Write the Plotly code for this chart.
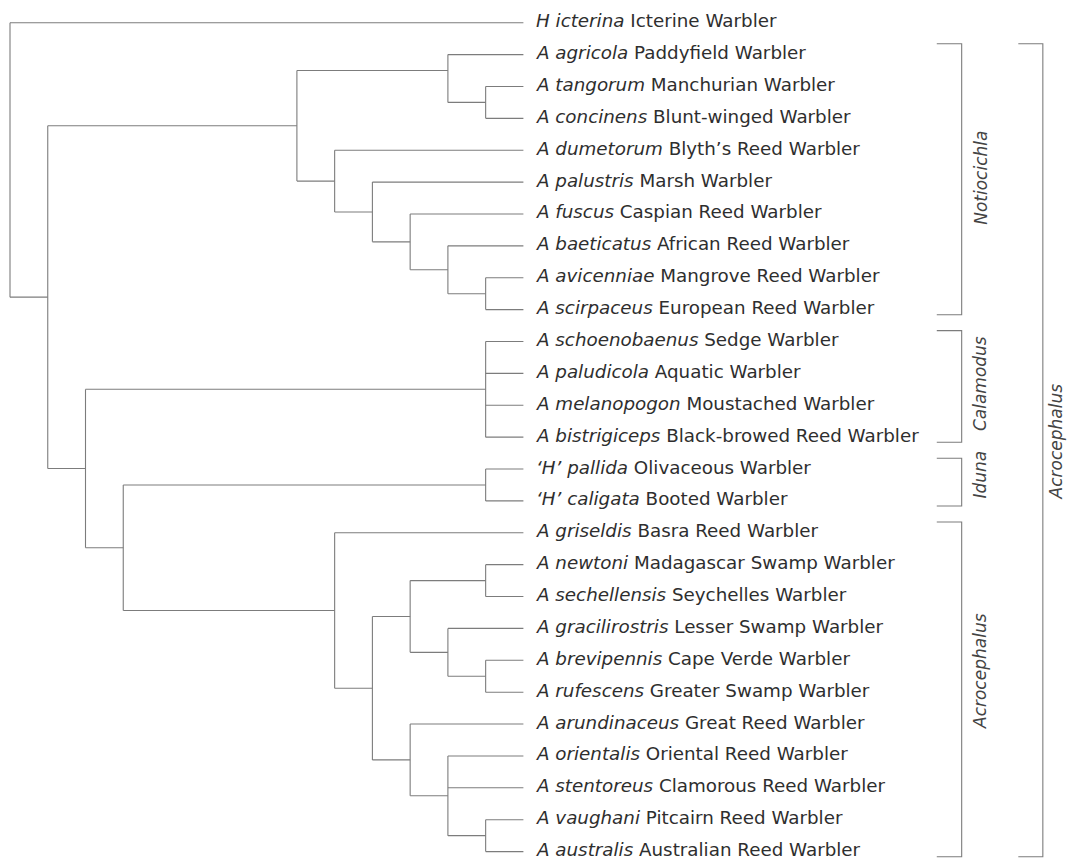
import plotly.graph_objects as go

# ---- data -------------------------------------------------------------
genus = ["H", "A", "A", "A", "A", "A", "A", "A", "A", "A",
         "A", "A", "A", "A", "‘H’", "‘H’",
         "A", "A", "A", "A", "A", "A", "A", "A", "A", "A", "A"]
species = ["icterina", "agricola", "tangorum", "concinens", "dumetorum", "palustris",
           "fuscus", "baeticatus", "avicenniae", "scirpaceus",
           "schoenobaenus", "paludicola", "melanopogon", "bistrigiceps",
           "pallida", "caligata",
           "griseldis", "newtoni", "sechellensis", "gracilirostris", "brevipennis",
           "rufescens", "arundinaceus", "orientalis", "stentoreus", "vaughani", "australis"]
common = ["Icterine Warbler", "Paddyfield Warbler", "Manchurian Warbler",
          "Blunt-winged Warbler", "Blyth’s Reed Warbler", "Marsh Warbler",
          "Caspian Reed Warbler", "African Reed Warbler", "Mangrove Reed Warbler",
          "European Reed Warbler", "Sedge Warbler", "Aquatic Warbler",
          "Moustached Warbler", "Black-browed Reed Warbler", "Olivaceous Warbler",
          "Booted Warbler", "Basra Reed Warbler", "Madagascar Swamp Warbler",
          "Seychelles Warbler", "Lesser Swamp Warbler", "Cape Verde Warbler",
          "Greater Swamp Warbler", "Great Reed Warbler", "Oriental Reed Warbler",
          "Clamorous Reed Warbler", "Pitcairn Reed Warbler", "Australian Reed Warbler"]

leaf_depth = 13.6
# tree: (node depth, children); ints are leaf indices
# optional third element = attachment row
tree = (0, [
    0,
    (1, [
        (7.6, [
            (11.6, [1, (12.6, [2, 3])], 1.5),
            (8.6, [4, (9.6, [5, (10.6, [6, (11.6, [7, (12.6, [8, 9])])])])]),
        ]),
        (2, [
            (12.6, [10, 11, 12, 13]),
            (3, [
                (12.6, [14, 15]),
                (8.6, [16,
                       (9.6, [
                           (10.6, [(12.6, [17, 18]), (11.6, [19, (12.6, [20, 21])])]),
                           (10.6, [22, (11.6, [23, 24, (12.6, [25, 26])])]),
                       ])]),
            ]),
        ]),
    ]),
])

groups = ["Notiocichla", "Calamodus", "Iduna", "Acrocephalus"]
group_first = [1, 10, 14, 16]
group_last = [9, 13, 15, 26]
outer_group = "Acrocephalus"
outer_first, outer_last = 1, 26

# ---- geometry --------------------------------------------------------
xs, ys = [], []


def draw(node):
    if isinstance(node, int):
        return node
    depth, children = node[0], node[1]
    cys = []
    for ch in children:
        cy = draw(ch)
        cdepth = leaf_depth if isinstance(ch, int) else ch[0]
        xs.extend([depth, cdepth, None])
        ys.extend([cy, cy, None])
        cys.append(cy)
    xs.extend([depth, depth, None])
    ys.extend([min(cys), max(cys), None])
    if len(node) > 2:
        return node[2]
    return (cys[0] + cys[-1]) / 2


draw(tree)

# brackets
br_x, br_tick = 25.21, 24.55
out_x, out_tick = 27.36, 26.71
top_off, bot_off = -0.34, 0.16
for f, l in zip(group_first, group_last):
    xs.extend([br_tick, br_x, br_x, br_tick, None])
    ys.extend([f + top_off, f + top_off, l + bot_off, l + bot_off, None])
xs.extend([out_tick, out_x, out_x, out_tick, None])
ys.extend([outer_first + top_off, outer_first + top_off,
           outer_last + bot_off, outer_last + bot_off, None])

fig = go.Figure()
fig.add_trace(go.Scatter(x=xs, y=ys, mode="lines",
                         line=dict(color="#7c7c7c", width=1.1),
                         hoverinfo="skip", showlegend=False))

FONT = "DejaVu Sans"
TXT = "#2e2e2e"
for i in range(len(species)):
    fig.add_annotation(x=leaf_depth + 0.32, y=i, yshift=2,
                       text=f"<i>{genus[i]} {species[i]}</i> {common[i]}",
                       showarrow=False, xanchor="left", yanchor="middle",
                       borderpad=0,
                       font=dict(family=FONT, size=18.3, color=TXT))

label_shift = [-0.05, -0.08, -0.24, -0.58]
for g, f, l, s in zip(groups, group_first, group_last, label_shift):
    fig.add_annotation(x=br_x + 0.49, y=(f + top_off + l + bot_off) / 2 + s,
                       text=f"<i>{g}</i>", showarrow=False, textangle=-90,
                       xanchor="center", yanchor="middle",
                       font=dict(family=FONT, size=17, color="#444444"))
fig.add_annotation(x=out_x + 0.36, y=(outer_first + top_off + outer_last + bot_off) / 2 - 0.29,
                   text=f"<i>{outer_group}</i>", showarrow=False, textangle=-90,
                   xanchor="center", yanchor="middle", borderpad=0,
                   font=dict(family=FONT, size=17, color="#444444"))

# px scale: 37.75 px per depth unit, 31.88 px per row
W, H = 1067, 860
x0, y0 = -0.265, -0.712
fig.update_layout(width=W, height=H, margin=dict(l=0, r=0, t=0, b=0),
                  plot_bgcolor="white", paper_bgcolor="white",
                  xaxis=dict(range=[x0, x0 + W / 37.75], visible=False, fixedrange=True),
                  yaxis=dict(range=[y0 + H / 31.88, y0], visible=False, fixedrange=True))

fig.write_html("out.html", config={"displayModeBar": False},
               post_script="document.body.style.margin='0';"
                           "document.body.style.overflow='hidden';")
